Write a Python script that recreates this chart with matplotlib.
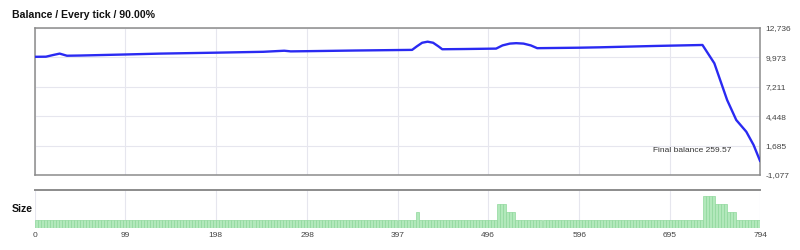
import numpy as np
import matplotlib
matplotlib.use("Agg")
import matplotlib.pyplot as plt

# ---- data ----
balance_x = [0, 12, 20, 27, 35, 50, 100, 137, 200, 250, 273, 280, 300, 350, 413,
             418, 424, 430, 436, 442, 446, 470, 505, 512, 520, 527, 535, 543, 550,
             596, 618, 680, 731, 744, 758, 768, 779, 787, 794]
balance_y = [10030, 10040, 10200, 10330, 10130, 10150, 10250, 10330, 10420, 10500, 10600, 10540,
             10560, 10620, 10680, 11000, 11350, 11450, 11350, 11000, 10740, 10760, 10800,
             11100, 11270, 11310, 11270, 11100, 10840, 10885, 10920, 11050, 11140, 9420,
             5970, 4090, 2990, 1740, 259.57]

size_levels = [1, 2, 1, 3, 2, 1, 4, 3, 2, 1]
size_counts = [126, 1, 26, 3, 3, 62, 4, 4, 3, 8]

x_ticks = [0, 99, 198, 298, 397, 496, 596, 695, 794]
y_ticks = [-1077, 1685, 4448, 7211, 9973, 12736]
title = "Balance / Every tick / 90.00%"
final_label = "Final balance 259.57"

# ---- figure ----
plt.rcParams['font.family'] = ['Liberation Sans', 'DejaVu Sans']
fig = plt.figure(figsize=(8, 2.5), dpi=100)

ax = fig.add_axes([0.04375, 0.30, 0.90625, 0.588])
ax.plot(balance_x, balance_y, color='#2a2af2', lw=1.7, zorder=3)
ax.set_xlim(0, 794)
ax.set_ylim(-1077, 12736)
ax.set_xticks(x_ticks)
ax.set_yticks(y_ticks)
ax.set_yticklabels([f"{v:,}" for v in y_ticks])
ax.yaxis.tick_right()
ax.tick_params(axis='y', length=0, pad=4, labelsize=6, labelcolor='#444444')
ax.tick_params(axis='x', length=0, labelbottom=False)
ax.grid(True, color='#e6e6ee', lw=0.8)
ax.set_axisbelow(True)
for s in ax.spines.values():
    s.set_color('#8c8c8c')
    s.set_linewidth(1.1)
ax.text(0.961, 0.165, final_label, transform=ax.transAxes, ha='right', va='center',
        fontsize=6, color='#333333')
fig.text(12 / 800, 1 - 15 / 250, title, fontsize=7.6, fontweight='bold',
         ha='left', va='center', color='#111111')

# size panel
ax2 = fig.add_axes([0.04375, 0.09, 0.90625, 0.15])
sizes = np.repeat(size_levels, size_counts)
n = len(sizes)
w = 794 / n
xs = np.arange(n) * w
ax2.bar(xs, sizes, width=w, align='edge', color='#b2e8bb', edgecolor='#8fd89c', linewidth=0.5,
        zorder=3)
ax2.set_xlim(0, 794)
ax2.set_ylim(0, 4.78)
ax2.set_xticks(x_ticks)
ax2.set_yticks([])
ax2.tick_params(axis='x', length=0, pad=3.5, labelsize=6, labelcolor='#444444')
ax2.grid(True, axis='x', color='#e6e6ee', lw=0.8)
ax2.set_axisbelow(True)
for k in ['left', 'right', 'bottom']:
    ax2.spines[k].set_visible(False)
ax2.spines['top'].set_color('#8c8c8c')
ax2.spines['top'].set_linewidth(1.4)
fig.text(12 / 800, 1 - 209 / 250, "Size", fontsize=7.6, fontweight='bold',
         ha='left', va='center', color='#111111')

fig.savefig('out.png', dpi=100)
